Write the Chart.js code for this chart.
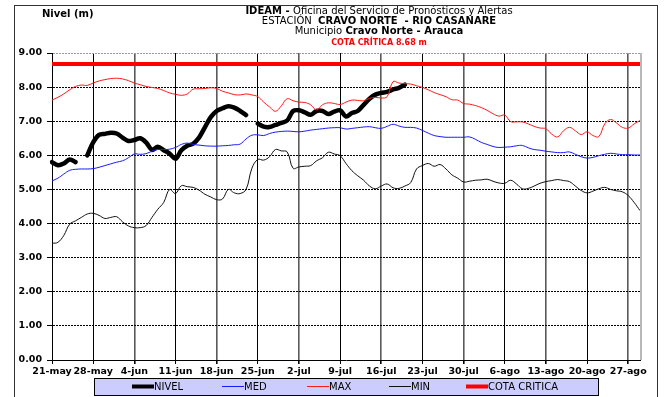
<!DOCTYPE html>
<html>
<head>
<meta charset="utf-8">
<title>Nivel Cravo Norte</title>
<script src="https://cdn.jsdelivr.net/npm/chart.js@4.4.0/dist/chart.umd.min.js"></script>
<style>
  html, body { margin: 0; padding: 0; background: #fff; }
  #wrap { position: relative; width: 667px; height: 397px; }
</style>
</head>
<body>
<div id="wrap"><canvas id="nivel-chart"></canvas></div>
<script>
// daily levels (m), 21-may .. 29-ago
const tickLabels = ['21-may', '28-may', '4-jun', '11-jun', '18-jun', '25-jun', '2-jul', '9-jul',
    '16-jul', '23-jul', '30-jul', '6-ago', '13-ago', '20-ago', '27-ago'];

const nivel = [5.80, 5.71, 5.76, 5.88, 5.80, null, 6.00, 6.38, 6.60, 6.63,
    6.66, 6.64, 6.52, 6.42, 6.45, 6.50, 6.38, 6.16, 6.25, 6.15,
    6.05, 5.90, 6.15, 6.28, 6.34, 6.52, 6.82, 7.12, 7.30, 7.38,
    7.44, 7.40, 7.30, 7.18, null, 6.93, 6.84, 6.83, 6.89, 6.95,
    7.02, 7.30, 7.32, 7.26, 7.19, 7.30, 7.30, 7.21, 7.28, 7.32,
    7.14, 7.24, 7.30, 7.48, 7.66, 7.78, 7.83, 7.86, 7.93, 7.98,
    8.07];

const medio = [5.25, 5.33, 5.45, 5.56, 5.59, 5.60, 5.60, 5.61, 5.65, 5.70,
    5.75, 5.80, 5.84, 5.93, 6.04, 6.03, 6.05, 6.12, 6.17, 6.17,
    6.18, 6.23, 6.32, 6.36, 6.32, 6.30, 6.28, 6.27, 6.27, 6.28,
    6.29, 6.31, 6.33, 6.48, 6.59, 6.60, 6.58, 6.64, 6.68, 6.70,
    6.71, 6.70, 6.69, 6.71, 6.74, 6.76, 6.78, 6.80, 6.81, 6.81,
    6.77, 6.79, 6.81, 6.83, 6.84, 6.81, 6.79, 6.85, 6.91, 6.86,
    6.82, 6.82, 6.80, 6.73, 6.65, 6.58, 6.55, 6.53, 6.53, 6.53,
    6.53, 6.54, 6.47, 6.38, 6.32, 6.26, 6.23, 6.24, 6.25, 6.28,
    6.29, 6.22, 6.17, 6.15, 6.12, 6.10, 6.08, 6.08, 6.10, 6.03,
    5.96, 5.92, 5.94, 5.99, 6.03, 6.06, 6.04, 6.02, 6.02, 6.01,
    6.01];

const maximo = [7.62, 7.70, 7.80, 7.92, 8.02, 8.06, 8.05, 8.12, 8.18, 8.22,
    8.25, 8.26, 8.24, 8.19, 8.12, 8.07, 8.02, 7.99, 7.96, 7.90,
    7.83, 7.79, 7.76, 7.80, 7.94, 7.95, 7.96, 7.98, 7.96, 7.88,
    7.83, 7.78, 7.77, 7.80, 7.77, 7.72, 7.56, 7.42, 7.29, 7.45,
    7.66, 7.60, 7.56, 7.55, 7.48, 7.33, 7.48, 7.54, 7.52, 7.49,
    7.56, 7.62, 7.61, 7.60, 7.67, 7.70, 7.68, 7.72, 8.16, 8.12,
    8.10, 8.09, 8.04, 7.99, 7.92, 7.84, 7.78, 7.72, 7.63, 7.62,
    7.52, 7.50, 7.46, 7.40, 7.32, 7.22, 7.15, 7.18, 6.99, 6.98,
    6.98, 6.92, 6.85, 6.80, 6.78, 6.62, 6.54, 6.72, 6.82, 6.72,
    6.61, 6.69, 6.58, 6.55, 6.92, 7.05, 6.95, 6.82, 6.80, 6.92,
    7.02];

const minimo = [3.42, 3.45, 3.65, 3.98, 4.08, 4.18, 4.28, 4.30, 4.24, 4.15,
    4.18, 4.20, 4.05, 3.93, 3.88, 3.88, 3.94, 4.18, 4.42, 4.62,
    5.00, 4.88, 5.11, 5.08, 5.06, 4.98, 4.86, 4.78, 4.70, 4.72,
    5.00, 4.90, 4.88, 5.00, 5.62, 5.88, 5.86, 5.96, 6.17, 6.13,
    6.10, 5.62, 5.66, 5.68, 5.70, 5.84, 5.93, 6.09, 6.04, 5.99,
    5.76, 5.55, 5.40, 5.27, 5.10, 5.02, 5.10, 5.16, 5.05, 5.03,
    5.10, 5.20, 5.60, 5.70, 5.76, 5.68, 5.73, 5.60, 5.43, 5.33,
    5.22, 5.24, 5.27, 5.28, 5.30, 5.24, 5.19, 5.18, 5.27, 5.16,
    5.02, 5.03, 5.10, 5.18, 5.23, 5.26, 5.29, 5.26, 5.23, 5.10,
    4.97, 4.90, 4.95, 5.02, 5.06, 5.00, 4.96, 4.93, 4.82, 4.62,
    4.38];

const cotaCritica = 8.68;

// one category per day
const monthNames = [['may', 31], ['jun', 30], ['jul', 31], ['ago', 31]];
const days = [];
let m = 0, d = 21;
while (days.length < maximo.length) {
    days.push(d + '-' + monthNames[m][0]);
    d++;
    if (d > monthNames[m][1]) { d = 1; m++; }
}

const FONT = "'DejaVu Sans', 'Liberation Sans', Arial, sans-serif";
Chart.defaults.font.family = FONT;
Chart.defaults.color = '#000';

// draws a line of text made of runs with different fonts, centred on cx
function drawRuns(ctx, runs, cx, y) {
    let total = 0;
    runs.forEach(r => { ctx.font = r.font; total += ctx.measureText(r.text).width; });
    let x = cx - total / 2;
    runs.forEach(r => {
        ctx.font = r.font;
        ctx.fillStyle = r.color || '#000';
        ctx.fillText(r.text, x, y);
        x += ctx.measureText(r.text).width;
    });
}

const decorations = {
    id: 'decorations',
    beforeDraw(chart) {
        const ctx = chart.ctx;
        ctx.save();
        ctx.fillStyle = '#fff';
        ctx.fillRect(0, 0, chart.width, chart.height);
        ctx.restore();
    },
    afterDraw(chart) {
        const ctx = chart.ctx;
        const area = chart.chartArea;
        ctx.save();

        // outer frame
        ctx.strokeStyle = '#333';
        ctx.lineWidth = 1;
        ctx.strokeRect(14.5, 5.5, 643, 400);

        // right border of the plot
        ctx.strokeStyle = '#b8b8b8';
        ctx.lineWidth = 2;
        ctx.beginPath();
        ctx.moveTo(area.right + 1, area.top);
        ctx.lineTo(area.right + 1, area.bottom);
        ctx.stroke();

        // titles
        ctx.textBaseline = 'middle';
        ctx.textAlign = 'left';
        ctx.font = 'bold 10px ' + FONT;
        ctx.fillStyle = '#000';
        ctx.fillText('Nivel (m)', 42, 14);

        const cx = 379;
        drawRuns(ctx, [
            { text: 'IDEAM - ', font: 'bold 10px ' + FONT },
            { text: 'Oficina del Servicio de Pronósticos y Alertas', font: '10px ' + FONT }
        ], cx, 11.5);
        drawRuns(ctx, [
            { text: 'ESTACIÓN  ', font: '10px ' + FONT },
            { text: 'CRAVO NORTE  - RIO CASANARE', font: 'bold 10px ' + FONT }
        ], cx, 21.5);
        drawRuns(ctx, [
            { text: 'Municipio ', font: '10px ' + FONT },
            { text: 'Cravo Norte - Arauca', font: 'bold 10px ' + FONT }
        ], cx, 31.5);
        drawRuns(ctx, [
            { text: 'COTA CRÍTICA ' + cotaCritica.toFixed(2) + ' m', font: 'bold 8px ' + FONT, color: '#ff0000' }
        ], cx, 42.5);

        // legend
        ctx.fillStyle = '#ccccff';
        ctx.fillRect(94, 378, 504, 17);
        ctx.strokeStyle = '#000';
        ctx.lineWidth = 1;
        ctx.strokeRect(94.5, 378.5, 504, 17);

        const starts = [132, 222, 307, 389, 466];
        ctx.font = '10px ' + FONT;
        chart.data.datasets.forEach((ds, i) => {
            const x = starts[i];
            ctx.strokeStyle = ds.borderColor;
            ctx.lineWidth = ds.borderWidth > 2 ? 4 : 1;
            ctx.beginPath();
            ctx.moveTo(x, 386.5);
            ctx.lineTo(x + 22, 386.5);
            ctx.stroke();
            ctx.fillStyle = '#000';
            ctx.fillText(ds.label, x + 22, 387);
        });

        ctx.restore();
    }
};

// weekly grid lines alternate between a crisp and a softer stroke
function weekLine(index) {
    if (index % 7 !== 0) return null;
    return (index / 7) % 2 === 1 ? 'odd' : 'even';
}

new Chart(document.getElementById('nivel-chart'), {
    type: 'line',
    data: {
        labels: days,
        datasets: [
            { label: 'NIVEL', data: nivel, borderColor: '#000', borderWidth: 4.5, tension: 0.35,
              borderCapStyle: 'round', borderJoinStyle: 'round', spanGaps: false, order: 5 },
            { label: 'MED', data: medio, borderColor: '#1a1aff', borderWidth: 1, tension: 0.4, order: 4 },
            { label: 'MAX', data: maximo, borderColor: '#ff1a1a', borderWidth: 1, tension: 0.4, order: 3 },
            { label: 'MIN', data: minimo, borderColor: '#111', borderWidth: 1, tension: 0.4, order: 2 },
            { label: 'COTA CRITICA', data: [{ x: days[0], y: cotaCritica }, { x: days[days.length - 1], y: cotaCritica }],
              borderColor: '#ff0000', borderWidth: 4, order: 1 }
        ]
    },
    options: {
        responsive: true,
        maintainAspectRatio: false,
        animation: false,
        elements: { point: { radius: 0, hoverRadius: 0 } },
        layout: { padding: { top: 53, right: 27, bottom: 0, left: 0 } },
        plugins: {
            legend: { display: false },
            title: { display: false },
            tooltip: { enabled: false }
        },
        scales: {
            x: {
                type: 'category',
                offset: false,
                afterFit: scale => { scale.height = 37; },
                grid: {
                    color: ctx => {
                        const w = weekLine(ctx.index);
                        if (!w) return 'rgba(0,0,0,0)';
                        return w === 'odd' ? '#000' : '#5a5a5a';
                    },
                    lineWidth: ctx => weekLine(ctx.index) === 'even' && ctx.index > 0 ? 1.6 : 1,
                    tickColor: ctx => weekLine(ctx.index) ? '#000' : 'rgba(0,0,0,0)',
                    tickLength: 4,
                    drawTicks: true
                },
                border: { display: true, color: '#000', width: 1 },
                ticks: {
                    autoSkip: false,
                    maxRotation: 0,
                    minRotation: 0,
                    padding: 2,
                    font: { size: 9.5, weight: 'bold' },
                    color: '#000',
                    callback: (value, index) => index % 7 === 0 ? tickLabels[index / 7] : ''
                }
            },
            y: {
                min: 0,
                max: 9,
                afterFit: scale => { scale.width = 52; },
                grid: {
                    color: ctx => ctx.tick && ctx.tick.value === 9 ? '#9a9a9a' : '#000',
                    lineWidth: 1,
                    tickLength: 5,
                    tickColor: '#000'
                },
                border: { display: true, color: '#000', width: 1, dash: [2, 1] },
                ticks: {
                    stepSize: 1,
                    padding: 5,
                    font: { size: 9.5, weight: 'bold' },
                    color: '#000',
                    callback: v => v.toFixed(2)
                }
            }
        }
    },
    plugins: [decorations]
});
</script>
</body>
</html>
